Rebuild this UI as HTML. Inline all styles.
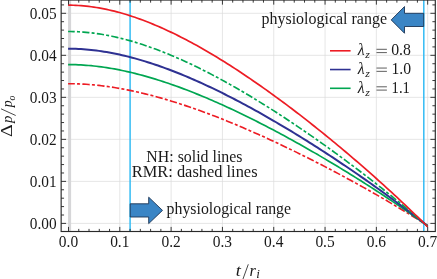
<!DOCTYPE html><html><head><meta charset="utf-8"><style>html,body{margin:0;padding:0;background:#fff}svg{display:block;will-change:transform}text{font-family:"Liberation Serif",serif;fill:#1a1a1a}</style></head><body>
<svg width="437" height="279" viewBox="0 0 437 279">
<rect width="437" height="279" fill="#fff"/>
<path d="M68.50 0.05V231.5M119.81 0.05V231.5M171.12 0.05V231.5M222.43 0.05V231.5M273.74 0.05V231.5M325.05 0.05V231.5M376.36 0.05V231.5M427.67 0.05V231.5M61.15 223.40H435.3M61.15 181.38H435.3M61.15 139.36H435.3M61.15 97.34H435.3M61.15 55.32H435.3M61.15 13.30H435.3" stroke="#dbdbdb" stroke-width="0.7" fill="none"/>
<rect x="68.1" y="0.05" width="3.0" height="231.45" fill="#d6d6d8"/>
<path d="M130.1 0.05V231.5M423.8 0.05V231.5" stroke="#35bcf4" stroke-width="1.5" fill="none"/>
<polyline points="68.09,83.70 70.66,83.71 73.23,83.74 75.79,83.80 78.36,83.89 80.93,84.00 83.50,84.14 86.07,84.30 88.64,84.48 91.21,84.68 93.77,84.91 96.34,85.17 98.91,85.44 101.48,85.74 104.05,86.06 106.62,86.40 109.18,86.76 111.75,87.14 114.32,87.54 116.89,87.96 119.46,88.40 122.03,88.86 124.60,89.34 127.16,89.84 129.73,90.36 132.30,90.90 134.87,91.45 137.44,92.02 140.01,92.61 142.57,93.22 145.14,93.84 147.71,94.48 150.28,95.13 152.85,95.80 155.42,96.49 157.98,97.19 160.55,97.91 163.12,98.64 165.69,99.39 168.26,100.15 170.83,100.93 173.40,101.72 175.96,102.52 178.53,103.34 181.10,104.17 183.67,105.01 186.24,105.87 188.81,106.74 191.37,107.62 193.94,108.51 196.51,109.42 199.08,110.34 201.65,111.27 204.22,112.21 206.78,113.16 209.35,114.12 211.92,115.09 214.49,116.08 217.06,117.07 219.63,118.08 222.20,119.10 224.76,120.12 227.33,121.16 229.90,122.20 232.47,123.26 235.04,124.32 237.61,125.39 240.17,126.48 242.74,127.57 245.31,128.67 247.88,129.78 250.45,130.90 253.02,132.02 255.59,133.16 258.15,134.30 260.72,135.45 263.29,136.61 265.86,137.78 268.43,138.95 271.00,140.14 273.56,141.33 276.13,142.52 278.70,143.73 281.27,144.94 283.84,146.16 286.41,147.39 288.97,148.63 291.54,149.87 294.11,151.12 296.68,152.37 299.25,153.64 301.82,154.91 304.39,156.18 306.95,157.47 309.52,158.76 312.09,160.05 314.66,161.36 317.23,162.67 319.80,163.98 322.36,165.31 324.93,166.64 327.50,167.98 330.07,169.32 332.64,170.67 335.21,172.03 337.77,173.39 340.34,174.76 342.91,176.14 345.48,177.52 348.05,178.91 350.62,180.31 353.19,181.71 355.75,183.12 358.32,184.54 360.89,185.96 363.46,187.39 366.03,188.83 368.60,190.27 371.16,191.73 373.73,193.18 376.30,194.65 378.87,196.12 381.44,197.60 384.01,199.09 386.58,200.58 389.14,202.09 391.71,203.60 394.28,205.11 396.85,206.64 399.42,208.17 401.99,209.71 404.55,211.26 407.12,212.82 409.69,214.38 412.26,215.95 414.83,217.54 417.40,219.13 419.96,220.72 422.53,222.33 425.10,223.95 427.67,225.57" fill="none" stroke="#ed1c24" stroke-width="1.65" stroke-dasharray="7.35 2.22 3.03 2.28" stroke-dashoffset="0.6"/>
<polyline points="68.09,64.60 70.66,64.61 73.23,64.65 75.79,64.72 78.36,64.82 80.93,64.94 83.50,65.10 86.07,65.28 88.64,65.48 91.21,65.72 93.77,65.98 96.34,66.27 98.91,66.58 101.48,66.92 104.05,67.28 106.62,67.66 109.18,68.07 111.75,68.51 114.32,68.96 116.89,69.44 119.46,69.95 122.03,70.47 124.60,71.02 127.16,71.58 129.73,72.17 132.30,72.78 134.87,73.41 137.44,74.06 140.01,74.73 142.57,75.42 145.14,76.12 147.71,76.85 150.28,77.59 152.85,78.36 155.42,79.14 157.98,79.94 160.55,80.75 163.12,81.59 165.69,82.44 168.26,83.30 170.83,84.18 173.40,85.08 175.96,85.99 178.53,86.92 181.10,87.87 183.67,88.83 186.24,89.80 188.81,90.79 191.37,91.79 193.94,92.81 196.51,93.84 199.08,94.88 201.65,95.93 204.22,97.00 206.78,98.09 209.35,99.18 211.92,100.29 214.49,101.41 217.06,102.54 219.63,103.68 222.20,104.83 224.76,106.00 227.33,107.18 229.90,108.37 232.47,109.57 235.04,110.77 237.61,112.00 240.17,113.23 242.74,114.47 245.31,115.72 247.88,116.98 250.45,118.25 253.02,119.53 255.59,120.82 258.15,122.12 260.72,123.43 263.29,124.75 265.86,126.07 268.43,127.41 271.00,128.75 273.56,130.11 276.13,131.47 278.70,132.84 281.27,134.22 283.84,135.60 286.41,137.00 288.97,138.40 291.54,139.81 294.11,141.23 296.68,142.66 299.25,144.10 301.82,145.54 304.39,146.99 306.95,148.45 309.52,149.92 312.09,151.39 314.66,152.87 317.23,154.36 319.80,155.86 322.36,157.37 324.93,158.88 327.50,160.40 330.07,161.93 332.64,163.46 335.21,165.00 337.77,166.55 340.34,168.11 342.91,169.68 345.48,171.25 348.05,172.83 350.62,174.42 353.19,176.01 355.75,177.61 358.32,179.23 360.89,180.84 363.46,182.47 366.03,184.10 368.60,185.75 371.16,187.40 373.73,189.05 376.30,190.72 378.87,192.39 381.44,194.08 384.01,195.77 386.58,197.47 389.14,199.17 391.71,200.89 394.28,202.61 396.85,204.35 399.42,206.09 401.99,207.84 404.55,209.60 407.12,211.37 409.69,213.15 412.26,214.94 414.83,216.73 417.40,218.54 419.96,220.36 422.53,222.19 425.10,224.02 427.67,225.87" fill="none" stroke="#00a651" stroke-width="1.7"/>
<polyline points="68.09,48.70 70.66,48.71 73.23,48.76 75.79,48.83 78.36,48.94 80.93,49.08 83.50,49.25 86.07,49.44 88.64,49.67 91.21,49.93 93.77,50.22 96.34,50.53 98.91,50.88 101.48,51.25 104.05,51.65 106.62,52.07 109.18,52.52 111.75,53.00 114.32,53.50 116.89,54.03 119.46,54.58 122.03,55.16 124.60,55.76 127.16,56.38 129.73,57.03 132.30,57.70 134.87,58.39 137.44,59.11 140.01,59.84 142.57,60.60 145.14,61.38 147.71,62.18 150.28,63.00 152.85,63.84 155.42,64.69 157.98,65.57 160.55,66.47 163.12,67.39 165.69,68.32 168.26,69.27 170.83,70.24 173.40,71.23 175.96,72.24 178.53,73.26 181.10,74.30 183.67,75.35 186.24,76.42 188.81,77.51 191.37,78.61 193.94,79.73 196.51,80.86 199.08,82.01 201.65,83.17 204.22,84.35 206.78,85.54 209.35,86.74 211.92,87.96 214.49,89.19 217.06,90.44 219.63,91.69 222.20,92.96 224.76,94.25 227.33,95.54 229.90,96.85 232.47,98.17 235.04,99.50 237.61,100.84 240.17,102.19 242.74,103.56 245.31,104.94 247.88,106.32 250.45,107.72 253.02,109.13 255.59,110.55 258.15,111.98 260.72,113.42 263.29,114.87 265.86,116.33 268.43,117.80 271.00,119.28 273.56,120.76 276.13,122.26 278.70,123.77 281.27,125.29 283.84,126.81 286.41,128.35 288.97,129.89 291.54,131.45 294.11,133.01 296.68,134.58 299.25,136.16 301.82,137.75 304.39,139.34 306.95,140.95 309.52,142.56 312.09,144.18 314.66,145.81 317.23,147.45 319.80,149.10 322.36,150.75 324.93,152.42 327.50,154.09 330.07,155.77 332.64,157.46 335.21,159.16 337.77,160.86 340.34,162.58 342.91,164.30 345.48,166.03 348.05,167.77 350.62,169.51 353.19,171.27 355.75,173.03 358.32,174.80 360.89,176.58 363.46,178.37 366.03,180.17 368.60,181.98 371.16,183.79 373.73,185.61 376.30,187.45 378.87,189.29 381.44,191.14 384.01,193.00 386.58,194.87 389.14,196.75 391.71,198.63 394.28,200.53 396.85,202.44 399.42,204.36 401.99,206.28 404.55,208.22 407.12,210.16 409.69,212.12 412.26,214.09 414.83,216.07 417.40,218.06 419.96,220.05 422.53,222.06 425.10,224.09 427.67,226.12" fill="none" stroke="#2e3192" stroke-width="2.0"/>
<polyline points="68.09,31.50 70.66,31.51 73.23,31.56 75.79,31.64 78.36,31.76 80.93,31.91 83.50,32.10 86.07,32.32 88.64,32.57 91.21,32.85 93.77,33.17 96.34,33.51 98.91,33.89 101.48,34.30 104.05,34.74 106.62,35.20 109.18,35.70 111.75,36.22 114.32,36.77 116.89,37.35 119.46,37.96 122.03,38.59 124.60,39.25 127.16,39.94 129.73,40.65 132.30,41.39 134.87,42.15 137.44,42.93 140.01,43.74 142.57,44.57 145.14,45.43 147.71,46.30 150.28,47.20 152.85,48.13 155.42,49.07 157.98,50.03 160.55,51.02 163.12,52.03 165.69,53.05 168.26,54.10 170.83,55.16 173.40,56.25 175.96,57.35 178.53,58.48 181.10,59.62 183.67,60.78 186.24,61.95 188.81,63.15 191.37,64.36 193.94,65.58 196.51,66.83 199.08,68.09 201.65,69.37 204.22,70.66 206.78,71.97 209.35,73.29 211.92,74.63 214.49,75.98 217.06,77.35 219.63,78.73 222.20,80.12 224.76,81.53 227.33,82.95 229.90,84.39 232.47,85.84 235.04,87.30 237.61,88.77 240.17,90.26 242.74,91.76 245.31,93.27 247.88,94.80 250.45,96.33 253.02,97.88 255.59,99.44 258.15,101.01 260.72,102.59 263.29,104.18 265.86,105.79 268.43,107.40 271.00,109.02 273.56,110.66 276.13,112.31 278.70,113.96 281.27,115.63 283.84,117.30 286.41,118.99 288.97,120.69 291.54,122.39 294.11,124.11 296.68,125.83 299.25,127.57 301.82,129.31 304.39,131.07 306.95,132.83 309.52,134.60 312.09,136.38 314.66,138.17 317.23,139.97 319.80,141.78 322.36,143.60 324.93,145.43 327.50,147.27 330.07,149.11 332.64,150.97 335.21,152.83 337.77,154.70 340.34,156.59 342.91,158.48 345.48,160.38 348.05,162.29 350.62,164.21 353.19,166.13 355.75,168.07 358.32,170.02 360.89,171.97 363.46,173.94 366.03,175.91 368.60,177.90 371.16,179.89 373.73,181.89 376.30,183.91 378.87,185.93 381.44,187.96 384.01,190.01 386.58,192.06 389.14,194.12 391.71,196.20 394.28,198.28 396.85,200.37 399.42,202.48 401.99,204.60 404.55,206.72 407.12,208.86 409.69,211.01 412.26,213.17 414.83,215.34 417.40,217.53 419.96,219.73 422.53,221.93 425.10,224.15 427.67,226.39" fill="none" stroke="#00a651" stroke-width="1.65" stroke-dasharray="7.25 2.2 3.0 2.27" stroke-dashoffset="0.6"/>
<polyline points="68.09,5.20 70.66,5.21 73.23,5.27 75.79,5.36 78.36,5.50 80.93,5.67 83.50,5.88 86.07,6.13 88.64,6.42 91.21,6.74 93.77,7.10 96.34,7.49 98.91,7.92 101.48,8.38 104.05,8.88 106.62,9.41 109.18,9.97 111.75,10.57 114.32,11.20 116.89,11.86 119.46,12.55 122.03,13.27 124.60,14.02 127.16,14.79 129.73,15.60 132.30,16.44 134.87,17.30 137.44,18.20 140.01,19.12 142.57,20.06 145.14,21.03 147.71,22.03 150.28,23.06 152.85,24.10 155.42,25.18 157.98,26.27 160.55,27.40 163.12,28.54 165.69,29.71 168.26,30.90 170.83,32.11 173.40,33.34 175.96,34.60 178.53,35.87 181.10,37.17 183.67,38.49 186.24,39.83 188.81,41.18 191.37,42.56 193.94,43.96 196.51,45.37 199.08,46.80 201.65,48.26 204.22,49.72 206.78,51.21 209.35,52.72 211.92,54.24 214.49,55.77 217.06,57.33 219.63,58.90 222.20,60.48 224.76,62.09 227.33,63.70 229.90,65.34 232.47,66.98 235.04,68.65 237.61,70.32 240.17,72.01 242.74,73.72 245.31,75.44 247.88,77.17 250.45,78.92 253.02,80.68 255.59,82.45 258.15,84.23 260.72,86.03 263.29,87.84 265.86,89.67 268.43,91.50 271.00,93.35 273.56,95.21 276.13,97.08 278.70,98.96 281.27,100.86 283.84,102.76 286.41,104.68 288.97,106.61 291.54,108.55 294.11,110.50 296.68,112.46 299.25,114.43 301.82,116.42 304.39,118.41 306.95,120.42 309.52,122.43 312.09,124.46 314.66,126.49 317.23,128.54 319.80,130.60 322.36,132.67 324.93,134.74 327.50,136.83 330.07,138.93 332.64,141.04 335.21,143.16 337.77,145.29 340.34,147.43 342.91,149.58 345.48,151.74 348.05,153.91 350.62,156.09 353.19,158.29 355.75,160.49 358.32,162.70 360.89,164.93 363.46,167.16 366.03,169.40 368.60,171.66 371.16,173.93 373.73,176.21 376.30,178.49 378.87,180.80 381.44,183.11 384.01,185.43 386.58,187.76 389.14,190.11 391.71,192.47 394.28,194.84 396.85,197.22 399.42,199.61 401.99,202.02 404.55,204.44 407.12,206.87 409.69,209.31 412.26,211.77 414.83,214.24 417.40,216.72 419.96,219.22 422.53,221.73 425.10,224.26 427.67,226.80" fill="none" stroke="#ed1c24" stroke-width="1.7"/>
<path d="M130.2 203.8H148.7V197.20000000000002L162.5 210.4L148.7 223.6V217.0H130.2ZM423.7 13.299999999999999H404.5V6.549999999999999L391.2 19.9L404.5 33.25V26.5H423.7Z" fill="#3a85c5" stroke="#1b3354" stroke-width="0.9" stroke-linejoin="miter"/>
<rect x="61.15" y="0.05" width="374.15000000000003" height="231.45" fill="none" stroke="#2a2a2a" stroke-width="1.15"/>
<path d="M68.50 231.5v-4.6M68.50 0.05v4.6M78.76 231.5v-2.6M78.76 0.05v2.6M89.02 231.5v-2.6M89.02 0.05v2.6M99.29 231.5v-2.6M99.29 0.05v2.6M109.55 231.5v-2.6M109.55 0.05v2.6M119.81 231.5v-4.6M119.81 0.05v4.6M130.07 231.5v-2.6M130.07 0.05v2.6M140.33 231.5v-2.6M140.33 0.05v2.6M150.60 231.5v-2.6M150.60 0.05v2.6M160.86 231.5v-2.6M160.86 0.05v2.6M171.12 231.5v-4.6M171.12 0.05v4.6M181.38 231.5v-2.6M181.38 0.05v2.6M191.64 231.5v-2.6M191.64 0.05v2.6M201.91 231.5v-2.6M201.91 0.05v2.6M212.17 231.5v-2.6M212.17 0.05v2.6M222.43 231.5v-4.6M222.43 0.05v4.6M232.69 231.5v-2.6M232.69 0.05v2.6M242.95 231.5v-2.6M242.95 0.05v2.6M253.22 231.5v-2.6M253.22 0.05v2.6M263.48 231.5v-2.6M263.48 0.05v2.6M273.74 231.5v-4.6M273.74 0.05v4.6M284.00 231.5v-2.6M284.00 0.05v2.6M294.26 231.5v-2.6M294.26 0.05v2.6M304.53 231.5v-2.6M304.53 0.05v2.6M314.79 231.5v-2.6M314.79 0.05v2.6M325.05 231.5v-4.6M325.05 0.05v4.6M335.31 231.5v-2.6M335.31 0.05v2.6M345.57 231.5v-2.6M345.57 0.05v2.6M355.84 231.5v-2.6M355.84 0.05v2.6M366.10 231.5v-2.6M366.10 0.05v2.6M376.36 231.5v-4.6M376.36 0.05v4.6M386.62 231.5v-2.6M386.62 0.05v2.6M396.88 231.5v-2.6M396.88 0.05v2.6M407.15 231.5v-2.6M407.15 0.05v2.6M417.41 231.5v-2.6M417.41 0.05v2.6M427.67 231.5v-4.6M427.67 0.05v4.6M61.15 223.40h4.9M435.3 223.40h-4.9M61.15 215.00h2.9M435.3 215.00h-2.9M61.15 206.59h2.9M435.3 206.59h-2.9M61.15 198.19h2.9M435.3 198.19h-2.9M61.15 189.78h2.9M435.3 189.78h-2.9M61.15 181.38h4.9M435.3 181.38h-4.9M61.15 172.98h2.9M435.3 172.98h-2.9M61.15 164.57h2.9M435.3 164.57h-2.9M61.15 156.17h2.9M435.3 156.17h-2.9M61.15 147.76h2.9M435.3 147.76h-2.9M61.15 139.36h4.9M435.3 139.36h-4.9M61.15 130.96h2.9M435.3 130.96h-2.9M61.15 122.55h2.9M435.3 122.55h-2.9M61.15 114.15h2.9M435.3 114.15h-2.9M61.15 105.74h2.9M435.3 105.74h-2.9M61.15 97.34h4.9M435.3 97.34h-4.9M61.15 88.94h2.9M435.3 88.94h-2.9M61.15 80.53h2.9M435.3 80.53h-2.9M61.15 72.13h2.9M435.3 72.13h-2.9M61.15 63.72h2.9M435.3 63.72h-2.9M61.15 55.32h4.9M435.3 55.32h-4.9M61.15 46.92h2.9M435.3 46.92h-2.9M61.15 38.51h2.9M435.3 38.51h-2.9M61.15 30.11h2.9M435.3 30.11h-2.9M61.15 21.70h2.9M435.3 21.70h-2.9M61.15 13.30h4.9M435.3 13.30h-4.9M61.15 4.90h2.9M435.3 4.90h-2.9" stroke="#222" stroke-width="0.9" fill="none"/>
<text transform="translate(58.83,246.70) scale(0.9730,1)" font-size="15.9" xml:space="preserve">0.0</text>
<text transform="translate(110.14,246.70) scale(0.9730,1)" font-size="15.9" xml:space="preserve">0.1</text>
<text transform="translate(161.45,246.70) scale(0.9730,1)" font-size="15.9" xml:space="preserve">0.2</text>
<text transform="translate(212.76,246.70) scale(0.9730,1)" font-size="15.9" xml:space="preserve">0.3</text>
<text transform="translate(264.07,246.70) scale(0.9730,1)" font-size="15.9" xml:space="preserve">0.4</text>
<text transform="translate(315.38,246.70) scale(0.9730,1)" font-size="15.9" xml:space="preserve">0.5</text>
<text transform="translate(366.69,246.70) scale(0.9730,1)" font-size="15.9" xml:space="preserve">0.6</text>
<text transform="translate(418.00,246.70) scale(0.9730,1)" font-size="15.9" xml:space="preserve">0.7</text>
<text transform="translate(29.79,228.80) scale(0.9641,1)" font-size="15.9" xml:space="preserve">0.00</text>
<text transform="translate(29.79,186.78) scale(0.9641,1)" font-size="15.9" xml:space="preserve">0.01</text>
<text transform="translate(29.79,144.76) scale(0.9641,1)" font-size="15.9" xml:space="preserve">0.02</text>
<text transform="translate(29.79,102.74) scale(0.9641,1)" font-size="15.9" xml:space="preserve">0.03</text>
<text transform="translate(29.79,60.72) scale(0.9641,1)" font-size="15.9" xml:space="preserve">0.04</text>
<text transform="translate(29.79,18.70) scale(0.9641,1)" font-size="15.9" xml:space="preserve">0.05</text>
<text transform="translate(261.46,24.20) scale(1.0186,1)" font-size="15.7" xml:space="preserve">physiological range</text>
<text transform="translate(166.56,213.60) scale(1.0096,1)" font-size="15.7" xml:space="preserve">physiological range</text>
<text transform="translate(146.32,161.70) scale(1.0123,1)" font-size="15.7" xml:space="preserve">NH: solid lines</text>
<text transform="translate(131.81,177.10) scale(1.0451,1)" font-size="15.7" xml:space="preserve">RMR: dashed lines</text>
<path d="M330 50.80H350.6" stroke="#ed1c24" stroke-width="1.6"/>
<text transform="translate(357.70,55.10) scale(0.9613,1)" font-size="16.5" font-style="italic" xml:space="preserve">λ</text>
<text transform="translate(365.22,58.00) scale(1.2847,1)" font-size="9.3" font-style="italic" xml:space="preserve">z</text>
<path d="M376.5 49.30H386.9M376.5 52.60H386.9" stroke="#1a1a1a" stroke-width="0.7"/>
<text transform="translate(391.17,55.20) scale(0.9945,1)" font-size="15.9" xml:space="preserve">0.8</text>
<path d="M330 69.55H350.6" stroke="#2e3192" stroke-width="1.6"/>
<text transform="translate(357.70,73.85) scale(0.9613,1)" font-size="16.5" font-style="italic" xml:space="preserve">λ</text>
<text transform="translate(365.22,76.75) scale(1.2847,1)" font-size="9.3" font-style="italic" xml:space="preserve">z</text>
<path d="M376.5 68.05H386.9M376.5 71.35H386.9" stroke="#1a1a1a" stroke-width="0.7"/>
<text transform="translate(391.49,73.95) scale(0.9883,1)" font-size="15.9" xml:space="preserve">1.0</text>
<path d="M330 88.30H350.6" stroke="#00a651" stroke-width="1.6"/>
<text transform="translate(357.70,92.60) scale(0.9613,1)" font-size="16.5" font-style="italic" xml:space="preserve">λ</text>
<text transform="translate(365.22,95.50) scale(1.2847,1)" font-size="9.3" font-style="italic" xml:space="preserve">z</text>
<path d="M376.5 86.80H386.9M376.5 90.10H386.9" stroke="#1a1a1a" stroke-width="0.7"/>
<text transform="translate(391.58,92.70) scale(0.9205,1)" font-size="15.9" xml:space="preserve">1.1</text>
<text transform="translate(235.77,275.80) scale(1.0952,1)" font-size="16.8" font-style="italic" xml:space="preserve">t</text>
<path d="M248.3 264.3L242.8 279.5" stroke="#1a1a1a" stroke-width="0.8"/>
<text transform="translate(249.55,275.80) scale(1.0053,1)" font-size="16.2" font-style="italic" xml:space="preserve">r</text>
<text transform="translate(256.28,277.70) scale(1.1343,1)" font-size="11.6" font-style="italic" xml:space="preserve">i</text>
<g transform="translate(12.1,0) rotate(-90)">
<text transform="translate(-137.10,0.00) scale(1.2195,1)" font-size="16.4" xml:space="preserve">Δ</text>
<text transform="translate(-123.12,0.00) scale(0.9556,1)" font-size="15.4" font-style="italic" xml:space="preserve">p</text>
<path d="M-115.5 3.6L-108.8 -11.1" stroke="#1a1a1a" stroke-width="0.8"/>
<text transform="translate(-107.37,0.00) scale(0.8944,1)" font-size="15.4" font-style="italic" xml:space="preserve">p</text>
<text transform="translate(-100.39,2.80) scale(0.9397,1)" font-size="10.4" font-style="italic" xml:space="preserve">o</text>
</g>
</svg></body></html>
